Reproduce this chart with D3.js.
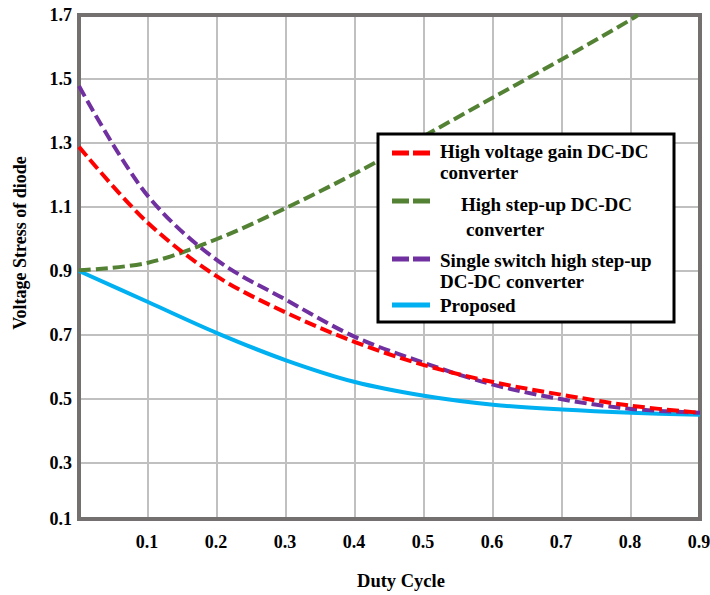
<!DOCTYPE html>
<html>
<head>
<meta charset="utf-8">
<script src="https://cdn.jsdelivr.net/npm/d3@7"></script>
<style>
  html, body { margin: 0; padding: 0; background: #fff; }
  svg text { font-family: "Liberation Serif", "Times New Roman", serif; font-weight: bold; fill: #000; }
</style>
</head>
<body>
<svg id="chart" width="710" height="595"></svg>
<script>
// Duty cycle samples (x axis)
const duty = [0, 0.1, 0.2, 0.3, 0.4, 0.5, 0.6, 0.7, 0.8, 0.9];

// Diode voltage stress of each converter
const highGain     = [1.288, 1.05, 0.883, 0.77, 0.678, 0.606, 0.553, 0.513, 0.479, 0.457];
const singleSwitch = [1.478, 1.134, 0.934, 0.81, 0.694, 0.613, 0.545, 0.499, 0.469, 0.457];
const proposed     = [0.9, 0.803, 0.706, 0.621, 0.553, 0.51, 0.482, 0.467, 0.457, 0.451];
// High step-up converter leaves the plot at the top edge
const stepUpDuty   = [0, 0.1, 0.2, 0.3, 0.4, 0.5, 0.6, 0.7, 0.8, 0.81];
const stepUp       = [0.902, 0.926, 1.0, 1.097, 1.205, 1.322, 1.442, 1.562, 1.686, 1.7];

// Axis ticks
const xTicks = [0.1, 0.2, 0.3, 0.4, 0.5, 0.6, 0.7, 0.8, 0.9];
const yTicks = [0.1, 0.3, 0.5, 0.7, 0.9, 1.1, 1.3, 1.5, 1.7];

const legendLabels = [
  ["High voltage gain DC-DC", "converter"],
  ["High step-up DC-DC", "converter"],
  ["Single switch high step-up", "DC-DC converter"],
  ["Proposed"]
];

const svg = d3.select("#chart");
const plotLeft = 79, plotRight = 700, plotTop = 15, plotBottom = 519;
const yMin = 0.125;

const x = d3.scaleLinear().domain([0, 0.9]).range([plotLeft, plotRight]);
const y = d3.scaleLinear().domain([yMin, 1.7]).range([plotBottom, plotTop]);

// Grid
const grid = svg.append("g");
grid.selectAll("line.vx").data(xTicks.filter(v => v < 0.9)).enter().append("line")
  .attr("x1", d => x(d)).attr("x2", d => x(d)).attr("y1", plotTop).attr("y2", plotBottom)
  .attr("stroke", "#c0c0c0").attr("stroke-width", 2);
grid.selectAll("line.hy").data(yTicks.filter(v => v > yMin && v < 1.7)).enter().append("line")
  .attr("x1", plotLeft).attr("x2", plotRight).attr("y1", d => y(d)).attr("y2", d => y(d))
  .attr("stroke", "#c0c0c0").attr("stroke-width", 2);

// Frame
svg.append("rect").attr("x", plotLeft).attr("y", plotTop)
  .attr("width", plotRight - plotLeft).attr("height", plotBottom - plotTop)
  .attr("fill", "none").attr("stroke", "#747070").attr("stroke-width", 4);

// Tick labels
svg.append("g").selectAll("text").data(yTicks).enter().append("text")
  .attr("x", 72).attr("y", d => y(Math.max(d, yMin)) + 6)
  .attr("text-anchor", "end").attr("font-size", 18)
  .text(d => d.toFixed(1));
svg.append("g").selectAll("text").data(xTicks).enter().append("text")
  .attr("x", d => x(d) - 1).attr("y", 548)
  .attr("text-anchor", "middle").attr("font-size", 18)
  .text(d => d.toFixed(1));

// Axis titles
svg.append("text").attr("x", 401).attr("y", 587)
  .attr("text-anchor", "middle").attr("font-size", 18.5).text("Duty Cycle");
svg.append("text").attr("transform", "translate(26,243) rotate(-90)")
  .attr("text-anchor", "middle").attr("font-size", 18).text("Voltage Stress of diode");

// Curves
const line = d3.line().x(d => x(d[0])).y(d => y(d[1])).curve(d3.curveCatmullRom.alpha(0.5));
const series = [
  { xs: duty, ys: proposed, color: "#00b0f0", dash: null },
  { xs: stepUpDuty, ys: stepUp, color: "#548235", dash: "12,5" },
  { xs: duty, ys: singleSwitch, color: "#7030a0", dash: "12,5" },
  { xs: duty, ys: highGain, color: "#ff0000", dash: "12,5" }
];
series.forEach(s => {
  svg.append("path")
    .datum(s.xs.map((v, i) => [v, s.ys[i]]))
    .attr("d", line)
    .attr("fill", "none")
    .attr("stroke", s.color)
    .attr("stroke-width", 4)
    .attr("stroke-dasharray", s.dash);
});

// Legend
const lg = svg.append("g");
lg.append("rect").attr("x", 378).attr("y", 134).attr("width", 296).attr("height", 188)
  .attr("fill", "#fff").attr("stroke", "#000").attr("stroke-width", 3);
const legendItems = [
  { color: "#ff0000", dash: "17,4", sy: 153, lines: legendLabels[0], tx: [440, 440], ty: [158, 179] },
  { color: "#548235", dash: "17,4", sy: 201, lines: legendLabels[1], tx: [461, 466], ty: [211, 236] },
  { color: "#7030a0", dash: "17,4", sy: 259, lines: legendLabels[2], tx: [440, 440], ty: [267, 288] },
  { color: "#00b0f0", dash: null,   sy: 305, lines: legendLabels[3], tx: [440], ty: [312] }
];
legendItems.forEach(it => {
  lg.append("line").attr("x1", 392).attr("x2", 430).attr("y1", it.sy).attr("y2", it.sy)
    .attr("stroke", it.color).attr("stroke-width", 5).attr("stroke-dasharray", it.dash);
  it.lines.forEach((t, i) => {
    lg.append("text").attr("x", it.tx[i]).attr("y", it.ty[i])
      .attr("font-size", 19).text(t);
  });
});
</script>
</body>
</html>
